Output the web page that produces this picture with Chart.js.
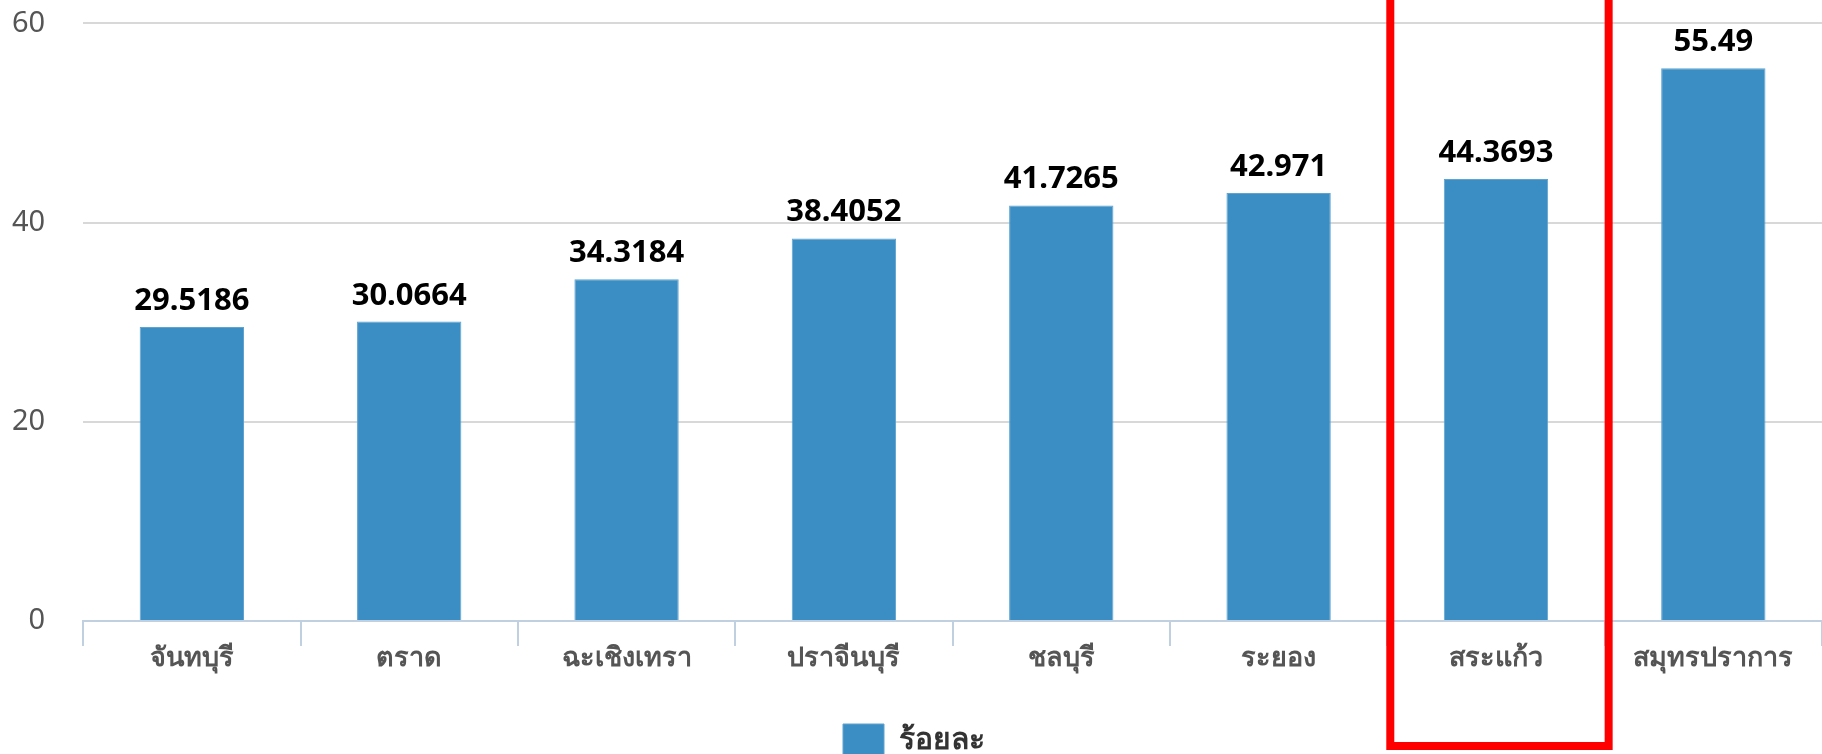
<!DOCTYPE html>
<html>
<head>
<meta charset="utf-8">
<script src="https://cdn.jsdelivr.net/npm/chart.js@4"></script>
<style>
  html, body { margin: 0; padding: 0; background: #fff; overflow: hidden; }
  #wrap { width: 1822px; height: 766px; position: relative; }
</style>
</head>
<body>
<div id="wrap"><canvas id="grafico"></canvas></div>
<script>
// datos
const provincias = ['จันทบุรี', 'ตราด', 'ฉะเชิงเทรา', 'ปราจีนบุรี', 'ชลบุรี', 'ระยอง', 'สระแก้ว', 'สมุทรปราการ'];
const porcentajes = [29.5186, 30.0664, 34.3184, 38.4052, 41.7265, 42.971, 44.3693, 55.49];
const nombreSerie = 'ร้อยละ';
const ticksY = [0, 20, 40, 60];
const marcado = 6; // สระแก้ว

// etiquetas encima de cada barra
const etiquetasBarras = {
  id: 'etiquetasBarras',
  afterDatasetsDraw(chart) {
    const ctx = chart.ctx;
    const meta = chart.getDatasetMeta(0);
    ctx.save();
    ctx.font = 'bold 31px "Noto Sans", "DejaVu Sans", sans-serif';
    ctx.fillStyle = '#000';
    ctx.textAlign = 'center';
    ctx.textBaseline = 'alphabetic';
    meta.data.forEach((bar, i) => {
      ctx.fillText(String(porcentajes[i]), bar.x, bar.y - 17);
    });
    ctx.restore();
  }
};

// recuadro rojo
const recuadro = {
  id: 'recuadro',
  afterDraw(chart) {
    const x = chart.scales.x;
    const ctx = chart.ctx;
    const medio = (x.getPixelForValue(1) - x.getPixelForValue(0)) / 2;
    const c = x.getPixelForValue(marcado);
    ctx.save();
    ctx.strokeStyle = '#ff0000';
    ctx.lineWidth = 8;
    ctx.strokeRect(c - medio + 3, -20, medio * 2 + 1, chart.chartArea.bottom + 145);
    ctx.restore();
  }
};

new Chart(document.getElementById('grafico'), {
  type: 'bar',
  data: {
    labels: provincias,
    datasets: [{
      label: nombreSerie,
      data: porcentajes,
      backgroundColor: '#3a8ec4',
      borderColor: '#5fa3d0',
      borderWidth: 1,
      categoryPercentage: 0.96,
      barPercentage: 0.5
    }]
  },
  options: {
    responsive: true,
    maintainAspectRatio: false,
    animation: false,
    devicePixelRatio: 1,
    layout: { padding: { left: 6, right: 0, top: 0, bottom: 0 } },
    plugins: {
      tooltip: { enabled: false },
      legend: {
        position: 'bottom',
        labels: {
          boxWidth: 41,
          boxHeight: 32,
          color: '#333',
          font: { family: '"Noto Sans", sans-serif', size: 30, weight: 'bold' },
          padding: 12
        }
      }
    },
    scales: {
      x: {
        offset: true,
        afterFit(scale) { scale.height = 91; },
        grid: {
          offset: true,
          drawOnChartArea: false,
          tickLength: 25,
          color: '#c0d0e0',
          lineWidth: 2
        },
        border: { color: '#c0d0e0', width: 2 },
        ticks: {
          color: '#555',
          padding: -4,
          font: { family: '"Noto Sans", sans-serif', size: 27, weight: 'bold' }
        }
      },
      y: {
        min: 0,
        max: 60,
        afterBuildTicks(scale) { scale.ticks = ticksY.map(v => ({ value: v })); },
        grid: { color: '#d8d8d8', lineWidth: 2, drawTicks: true, tickLength: 32, tickColor: 'rgba(0,0,0,0)' },
        border: { display: false },
        ticks: {
          color: '#555',
          padding: 6,
          font: { family: '"Noto Sans", sans-serif', size: 29 }
        }
      }
    }
  },
  plugins: [etiquetasBarras, recuadro]
});
</script>
</body>
</html>
